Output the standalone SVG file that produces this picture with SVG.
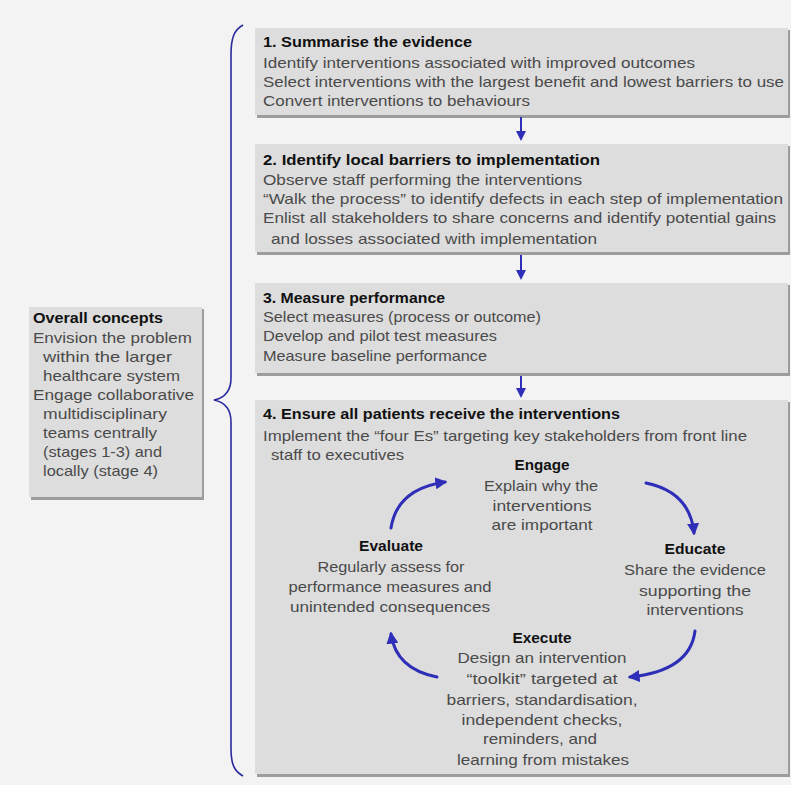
<svg xmlns="http://www.w3.org/2000/svg" width="791" height="785" viewBox="0 0 791 785">
<style>
.box{fill:#dddddd}
.sh{fill:#9c9c9c}
text{font-family:"Liberation Sans",Arial,sans-serif;font-size:15px}
.t{font-weight:bold;fill:#111}
.b{fill:#4a4a4a}
.c{text-anchor:middle}
.arr{fill:none;stroke:#2e2eb8;stroke-width:3;stroke-linecap:round}
.dn{fill:none;stroke:#2e2eb8;stroke-width:2}
.brace{fill:none;stroke:#2a2a9c;stroke-width:1.6}
</style>
<defs>
<marker id="ah" viewBox="0 0 10 10" refX="8" refY="5" markerWidth="4" markerHeight="4" orient="auto" markerUnits="strokeWidth">
<path d="M0,0 L10,5 L0,10 z" fill="#2e2eb8"/>
</marker>
<marker id="ahs" viewBox="0 0 10 10" refX="8" refY="5" markerWidth="5" markerHeight="5" orient="auto" markerUnits="strokeWidth">
<path d="M0,0 L10,5 L0,10 z" fill="#2e2eb8"/>
</marker>
</defs>
<rect x="0" y="0" width="791" height="785" fill="#f3f3f3"/>

<g id="overall">
<rect class="sh" x="31" y="309" width="173" height="191"/>
<rect class="box" x="29" y="307" width="173" height="190"/>
<text class="t" x="33" y="323" textLength="130" lengthAdjust="spacingAndGlyphs">Overall concepts</text>
<text class="b" x="33" y="343" textLength="159" lengthAdjust="spacingAndGlyphs">Envision the problem</text>
<text class="b" x="43" y="362" textLength="129" lengthAdjust="spacingAndGlyphs">within the larger</text>
<text class="b" x="43" y="381" textLength="137" lengthAdjust="spacingAndGlyphs">healthcare system</text>
<text class="b" x="33" y="400" textLength="161" lengthAdjust="spacingAndGlyphs">Engage collaborative</text>
<text class="b" x="43" y="419" textLength="124" lengthAdjust="spacingAndGlyphs">multidisciplinary</text>
<text class="b" x="43" y="438" textLength="114" lengthAdjust="spacingAndGlyphs">teams centrally</text>
<text class="b" x="43" y="457" textLength="119" lengthAdjust="spacingAndGlyphs">(stages 1-3) and</text>
<text class="b" x="43" y="476" textLength="115" lengthAdjust="spacingAndGlyphs">locally (stage 4)</text>
</g>

<g id="brace">
<path class="brace" d="M243,25 C234,30 231,38 231,55 L231,378 C231,392 224,398 214,400 C224,402 231,408 231,422 L231,748 C231,764 234,771 243,776"/>
</g>

<g id="step1">
<rect class="sh" x="257" y="30" width="533" height="88"/>
<rect class="box" x="255" y="28" width="533" height="87"/>
<text class="t" x="263" y="47" textLength="209" lengthAdjust="spacingAndGlyphs">1. Summarise the evidence</text>
<text class="b" x="263" y="68" textLength="432" lengthAdjust="spacingAndGlyphs">Identify interventions associated with improved outcomes</text>
<text class="b" x="263" y="87" textLength="521" lengthAdjust="spacingAndGlyphs">Select interventions with the largest benefit and lowest barriers to use</text>
<text class="b" x="263" y="106" textLength="267" lengthAdjust="spacingAndGlyphs">Convert interventions to behaviours</text>
</g>

<g id="step2">
<rect class="sh" x="257" y="146" width="533" height="109"/>
<rect class="box" x="255" y="144" width="533" height="108"/>
<text class="t" x="263" y="165" textLength="337" lengthAdjust="spacingAndGlyphs">2. Identify local barriers to implementation</text>
<text class="b" x="263" y="185" textLength="319" lengthAdjust="spacingAndGlyphs">Observe staff performing the interventions</text>
<text class="b" x="263" y="204" textLength="520" lengthAdjust="spacingAndGlyphs">“Walk the process” to identify defects in each step of implementation</text>
<text class="b" x="263" y="223" textLength="513" lengthAdjust="spacingAndGlyphs">Enlist all stakeholders to share concerns and identify potential gains</text>
<text class="b" x="271" y="244" textLength="326" lengthAdjust="spacingAndGlyphs">and losses associated with implementation</text>
</g>

<g id="step3">
<rect class="sh" x="257" y="285" width="533" height="91"/>
<rect class="box" x="255" y="283" width="533" height="90"/>
<text class="t" x="263" y="303" textLength="182" lengthAdjust="spacingAndGlyphs">3. Measure performance</text>
<text class="b" x="263" y="322" textLength="278" lengthAdjust="spacingAndGlyphs">Select measures (process or outcome)</text>
<text class="b" x="263" y="341" textLength="234" lengthAdjust="spacingAndGlyphs">Develop and pilot test measures</text>
<text class="b" x="263" y="361" textLength="224" lengthAdjust="spacingAndGlyphs">Measure baseline performance</text>
</g>

<g id="step4">
<rect class="sh" x="257" y="402" width="533" height="375"/>
<rect class="box" x="255" y="400" width="533" height="374"/>
<text class="t" x="263" y="419" textLength="357" lengthAdjust="spacingAndGlyphs">4. Ensure all patients receive the interventions</text>
<text class="b" x="263" y="441" textLength="484" lengthAdjust="spacingAndGlyphs">Implement the “four Es” targeting key stakeholders from front line</text>
<text class="b" x="271" y="460" textLength="133" lengthAdjust="spacingAndGlyphs">staff to executives</text>
</g>

<g id="engage">
<text class="t c" x="542" y="470" textLength="55" lengthAdjust="spacingAndGlyphs">Engage</text>
<text class="b c" x="541" y="491" textLength="114" lengthAdjust="spacingAndGlyphs">Explain why the</text>
<text class="b c" x="542" y="511" textLength="99" lengthAdjust="spacingAndGlyphs">interventions</text>
<text class="b c" x="542" y="530" textLength="101" lengthAdjust="spacingAndGlyphs">are important</text>
</g>

<g id="educate">
<text class="t c" x="695" y="554" textLength="61" lengthAdjust="spacingAndGlyphs">Educate</text>
<text class="b c" x="695" y="575" textLength="142" lengthAdjust="spacingAndGlyphs">Share the evidence</text>
<text class="b c" x="695" y="596" textLength="112" lengthAdjust="spacingAndGlyphs">supporting the</text>
<text class="b c" x="695" y="615" textLength="97" lengthAdjust="spacingAndGlyphs">interventions</text>
</g>

<g id="execute">
<text class="t c" x="542" y="643" textLength="59" lengthAdjust="spacingAndGlyphs">Execute</text>
<text class="b c" x="542" y="663" textLength="169" lengthAdjust="spacingAndGlyphs">Design an intervention</text>
<text class="b c" x="542" y="684" textLength="151" lengthAdjust="spacingAndGlyphs">“toolkit” targeted at</text>
<text class="b c" x="542" y="705" textLength="191" lengthAdjust="spacingAndGlyphs">barriers, standardisation,</text>
<text class="b c" x="542" y="725" textLength="161" lengthAdjust="spacingAndGlyphs">independent  checks,</text>
<text class="b c" x="540" y="744" textLength="114" lengthAdjust="spacingAndGlyphs">reminders, and</text>
<text class="b c" x="543" y="765" textLength="172" lengthAdjust="spacingAndGlyphs">learning from mistakes</text>
</g>

<g id="evaluate">
<text class="t c" x="391" y="551" textLength="64" lengthAdjust="spacingAndGlyphs">Evaluate</text>
<text class="b c" x="391" y="572" textLength="147" lengthAdjust="spacingAndGlyphs">Regularly assess for</text>
<text class="b c" x="390" y="592" textLength="203" lengthAdjust="spacingAndGlyphs">performance measures and</text>
<text class="b c" x="390" y="612" textLength="200" lengthAdjust="spacingAndGlyphs">unintended consequences</text>
</g>

<g id="connectors">
<line class="dn" x1="521" y1="117" x2="521" y2="139" marker-end="url(#ahs)"/>
<line class="dn" x1="521" y1="255" x2="521" y2="278" marker-end="url(#ahs)"/>
<line class="dn" x1="521" y1="376" x2="521" y2="396" marker-end="url(#ahs)"/>
<path class="arr" d="M391,528 Q397,489 445,482" marker-end="url(#ah)"/>
<path class="arr" d="M646,483 Q690,492 694,533" marker-end="url(#ah)"/>
<path class="arr" d="M695,631 Q690,671 630,677" marker-end="url(#ah)"/>
<path class="arr" d="M437,677 Q396,669 391,634" marker-end="url(#ah)"/>
</g>
</svg>
